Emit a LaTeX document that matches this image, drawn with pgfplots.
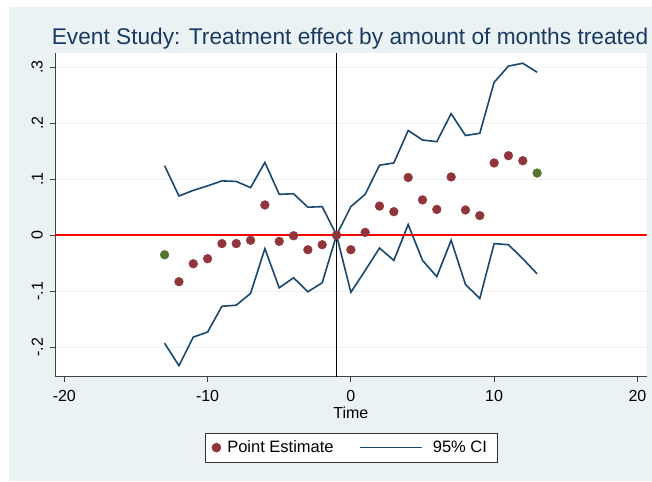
\documentclass[border=0pt]{standalone}
\usepackage{fontspec}
\setmainfont{Liberation Sans}
\usepackage{pgfplots}
\usepackage{pgfplotstable}
\pgfplotsset{compat=1.18}
\definecolor{bgc}{HTML}{EAF2F3}
\definecolor{navyc}{HTML}{1A476F}
\definecolor{maroonc}{HTML}{90353B}
\definecolor{greenc}{HTML}{55752F}
\definecolor{titlec}{HTML}{1A3A63}
\definecolor{redc}{RGB}{250,0,0}

\pgfplotsset{
  ptlegend/.style={legend image code/.code={\draw[##1] plot coordinates {(5pt,0pt)}; \path (0pt,0pt) (10pt,0pt);}},
  cilegend/.style={legend image code/.code={\draw[##1] (0pt,0pt) -- (61.3pt,0pt); \path (0pt,0pt) (66.1pt,0pt);}},
}

\pgfplotstableread{
t   b      lo     hi
-13 -0.035 -0.193 0.124
-12 -0.083 -0.233 0.070
-11 -0.051 -0.182 0.080
-10 -0.042 -0.173 0.088
-9  -0.015 -0.127 0.097
-8  -0.015 -0.125 0.096
-7  -0.009 -0.104 0.085
-6   0.054 -0.024 0.130
-5  -0.011 -0.094 0.073
-4  -0.001 -0.076 0.074
-3  -0.026 -0.101 0.050
-2  -0.017 -0.085 0.051
-1   0.000  0.000 0.000
0   -0.026 -0.102 0.051
1    0.005 -0.063 0.073
2    0.052 -0.023 0.125
3    0.042 -0.045 0.129
4    0.103  0.019 0.187
5    0.063 -0.045 0.170
6    0.046 -0.074 0.167
7    0.104 -0.009 0.217
8    0.045 -0.088 0.178
9    0.035 -0.113 0.182
10   0.129 -0.015 0.273
11   0.142 -0.017 0.302
12   0.133 -0.042 0.307
13   0.111 -0.069 0.291
}\est

\pgfplotstableread{
t   b
-12 -0.083
-11 -0.051
-10 -0.042
-9  -0.015
-8  -0.015
-7  -0.009
-6   0.054
-5  -0.011
-4  -0.001
-3  -0.026
-2  -0.017
-1   0.000
0   -0.026
1    0.005
2    0.052
3    0.042
4    0.103
5    0.063
6    0.046
7    0.104
8    0.045
9    0.035
10   0.129
11   0.142
12   0.133
}\midpts

\pgfplotstableread{
t   b
-13 -0.035
13   0.111
}\endpts

\pgfplotstableread{
x    y
-20.65 0
20.65  0
}\zeroline

\begin{document}
\begin{tikzpicture}[x=1pt,y=1pt]
\path[use as bounding box] (0,0) rectangle (652,481);
\fill[bgc] (9,0) rectangle (652,474);
\begin{axis}[
  at={(55pt,104.3pt)}, anchor=south west,
  scale only axis, width=591.7pt, height=324pt,
  xmin=-20.65, xmax=20.65, ymin=-0.2527, ymax=0.3259,
  axis x line*=bottom, axis y line*=left,
  axis line style={black!75, line width=0.9pt},
  axis background/.style={fill=white},
  xtick={-20,-10,0,10,20}, xticklabels={-20,-10,0,10,20},
  ytick={-0.2,-0.1,0,0.1,0.2,0.3}, yticklabels={-.2,-.1,0,.1,.2,.3},
  minor tick num=0,
  tick align=outside, major tick length=5.5pt,
  tick style={black!75, line width=0.9pt},
  ymajorgrids, grid style={bgc, line width=1pt},
  ticklabel style={font=\fontsize{16}{19}\selectfont, text=black},
  xticklabel style={anchor=north, inner sep=0pt},
  yticklabel style={rotate=90, anchor=south, inner sep=0pt},
  xticklabel shift=7.8pt,
  yticklabel shift=6.5pt,
  xlabel={Time},
  xlabel style={at={(0.5,0)}, anchor=base, yshift=-41.6pt, inner sep=0pt,
    font=\fontsize{16}{19}\selectfont},
  legend columns=2,
  legend style={at={(0.5003,-0.219)}, anchor=center, draw=black!80, fill=white,
    line width=0.7pt, inner xsep=6pt, inner ysep=8pt,
    nodes={inner sep=0pt}, font=\fontsize{16.5}{19}\selectfont,
    /tikz/every odd column/.append style={column sep=5.5pt},
    /tikz/every even column/.append style={column sep=26pt}},
  legend cell align=left,
]
\addlegendimage{only marks, mark=*, mark size=4.4pt, color=maroonc, ptlegend}
\addlegendentry{Point Estimate}
\addlegendimage{navyc, line width=1.6pt, cilegend}
\addlegendentry{95\% CI\hspace*{4pt}}

\addplot[draw=black, line width=1.3pt, forget plot] coordinates {(-1,-0.2527) (-1,0.3259)};
\addplot[draw=navyc, line width=1.6pt, forget plot] table[x=t, y=hi] {\est};
\addplot[draw=navyc, line width=1.6pt, forget plot] table[x=t, y=lo] {\est};
\addplot[draw=redc, line width=1.6pt, forget plot] table[x=x, y=y] {\zeroline};
\addplot[only marks, mark=*, mark size=4.4pt, color=maroonc, forget plot] table[x=t, y=b] {\midpts};
\addplot[only marks, mark=*, mark size=4.4pt, color=greenc, forget plot] table[x=t, y=b] {\endpts};
\end{axis}
\node[anchor=base, inner sep=0pt, text=titlec, font=\fontsize{22.7}{27}\selectfont]
  at (350pt,436.7pt) {Event Study: Treatment effect by amount of months treated};
\end{tikzpicture}
\end{document}
